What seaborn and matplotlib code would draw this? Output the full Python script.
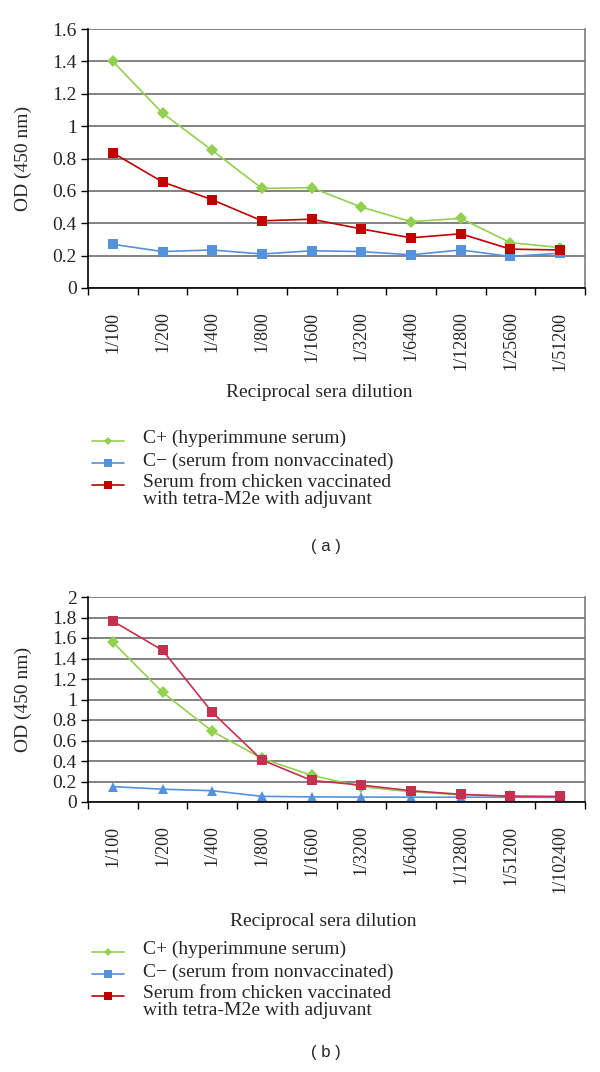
import matplotlib
matplotlib.use("Agg")
import matplotlib.pyplot as plt
from matplotlib.lines import Line2D
from matplotlib.ticker import FuncFormatter, MultipleLocator
import numpy as np
import pandas as pd
import seaborn as sns

# ---- data ----
dil_a = ["1/100", "1/200", "1/400", "1/800", "1/1600", "1/3200",
         "1/6400", "1/12800", "1/25600", "1/51200"]
dil_b = ["1/100", "1/200", "1/400", "1/800", "1/1600", "1/3200",
         "1/6400", "1/12800", "1/51200", "1/102400"]

cpos_a = [1.40, 1.08, 0.85, 0.615, 0.62, 0.50, 0.41, 0.43, 0.28, 0.25]
cneg_a = [0.27, 0.225, 0.235, 0.21, 0.23, 0.225, 0.205, 0.235, 0.195, 0.215]
vacc_a = [0.835, 0.655, 0.545, 0.415, 0.425, 0.365, 0.31, 0.335, 0.24, 0.235]

cpos_b = [1.56, 1.07, 0.69, 0.425, 0.26, 0.15, 0.10, 0.07, 0.055, 0.05]
cneg_b = [0.15, 0.125, 0.11, 0.055, 0.05, 0.048, 0.047, 0.047, 0.046, 0.045]
vacc_b = [1.765, 1.48, 0.875, 0.41, 0.21, 0.165, 0.11, 0.075, 0.057, 0.054]

names = ["C+ (hyperimmune serum)",
         "C\u2212 (serum from nonvaccinated)",
         "Serum from chicken vaccinated\nwith tetra-M2e with adjuvant"]

GREEN = "#92D050"
BLUE = "#5592DC"
RED_A = "#C00000"
RED_B = "#C5304F"

sns.set_style("white")
plt.rcParams["font.family"] = ["Liberation Serif", "DejaVu Serif"]


def long_df(dils, cpos, cneg, vacc):
    rows = []
    for name, vals in zip(names, [cpos, cneg, vacc]):
        for i, (d, v) in enumerate(zip(dils, vals)):
            rows.append({"idx": i, "dilution": d, "od": v, "series": name})
    return pd.DataFrame(rows)


def draw_panel(ax, df, dils, ymax, red, neg_marker, ms):
    sns.lineplot(data=df, x="idx", y="od", hue="series", style="series",
                 hue_order=names, style_order=names,
                 palette={names[0]: GREEN, names[1]: BLUE, names[2]: red},
                 markers={names[0]: "D", names[1]: neg_marker, names[2]: "s"},
                 dashes=False, linewidth=1.2, markersize=ms,
                 markeredgewidth=0, legend=False, ax=ax, zorder=3)
    ax.set_xlim(-0.5, len(dils) - 0.5)
    ax.set_ylim(0, ymax)
    ax.yaxis.set_major_locator(MultipleLocator(0.2))
    ax.yaxis.set_major_formatter(FuncFormatter(lambda v, p: f"{round(v, 1):g}"))
    ax.set_xticks(range(len(dils)))
    ax.set_xticklabels(dils, rotation=90, fontsize=13)
    ax.set_xticks(np.arange(-0.5, len(dils)), minor=True)
    ax.tick_params(axis="x", which="major", length=0, pad=17)
    ax.tick_params(axis="x", which="minor", length=5, width=1, color="black",
                   direction="out", bottom=True)
    ax.tick_params(axis="y", length=5, width=1, color="black", direction="out",
                   left=True, labelsize=14, pad=3)
    ax.grid(axis="y", color="#606060", linewidth=1.1)
    ax.grid(axis="x", visible=False)
    ax.set_axisbelow(True)
    for s in ["left", "bottom"]:
        ax.spines[s].set_color("black")
        ax.spines[s].set_linewidth(1.2)
        ax.spines[s].set_zorder(4)
    ax.spines["top"].set_visible(False)
    ax.spines["right"].set_color("#707070")
    ax.spines["right"].set_linewidth(1.1)
    ax.set_xlabel("")
    ax.set_ylabel("OD (450 nm)", fontsize=14)
    ax.yaxis.set_label_coords(-0.112, 0.5)


def draw_legend(fig, y_first, red):
    # legend drawn by hand so the handle sits on the first text line
    styles = [(GREEN, "D", 4), (BLUE, "s", 5.5), (red, "s", 5.5)]
    H = 1072.0
    for k, ((c, m, ms), name) in enumerate(zip(styles, names)):
        y = y_first + 22 * k
        fig.add_artist(Line2D([92 / 600, 108 / 600, 124 / 600],
                              [1 - y / H] * 3, color=c, linewidth=1.2,
                              marker=m, markersize=ms, markeredgewidth=0,
                              markevery=[1], transform=fig.transFigure))
        fig.text(143 / 600, 1 - (y - 11) / H, name, fontsize=14, va="top",
                 ha="left", linespacing=1.0)


fig = plt.figure(figsize=(6, 10.72), dpi=100)
ax_a = fig.add_axes([88 / 600, 1 - 288 / 1072, 497 / 600, 259 / 1072])
ax_b = fig.add_axes([88 / 600, 1 - 802 / 1072, 497 / 600, 205 / 1072])

draw_panel(ax_a, long_df(dil_a, cpos_a, cneg_a, vacc_a), dil_a, 1.6, RED_A, "s", 6.5)
draw_panel(ax_b, long_df(dil_b, cpos_b, cneg_b, vacc_b), dil_b, 2.0, RED_B, "^", 6.5)

fig.text(319 / 600, 1 - 392 / 1072, "Reciprocal sera dilution", fontsize=14,
         ha="center", va="center")
fig.text(323 / 600, 1 - 922 / 1072, "Reciprocal sera dilution", fontsize=14,
         ha="center", va="center")

draw_legend(fig, 441, RED_A)
draw_legend(fig, 952, RED_A)

fig.text(326 / 600, 1 - 546 / 1072, "( a )", fontsize=12, ha="center",
         va="center", family="Liberation Sans")
fig.text(326 / 600, 1 - 1052 / 1072, "( b )", fontsize=12, ha="center",
         va="center", family="Liberation Sans")

fig.savefig("out.png", dpi=100)
